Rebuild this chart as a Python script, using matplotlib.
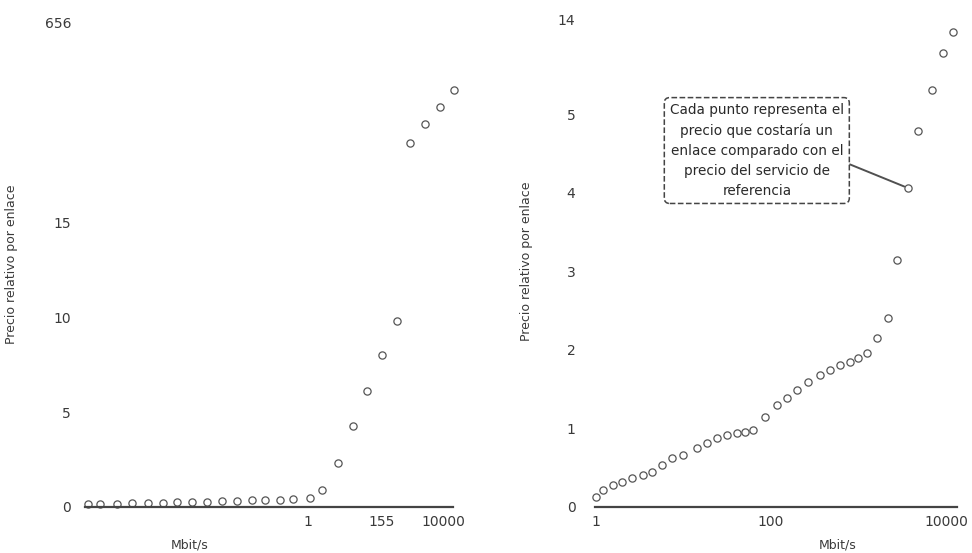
import matplotlib
matplotlib.use("Agg")
import matplotlib.pyplot as plt

plt.rcParams['font.family'] = ['DejaVu Sans']

# Left panel: relative price per link vs. bandwidth (Mbit/s)
left_mbps = [3.0e-7, 6.9e-7, 2.2e-6, 6.1e-6, 1.8e-5, 5.0e-5, 1.3e-4, 3.7e-4,
             1.0e-3, 2.8e-3, 7.9e-3, 0.022, 0.053, 0.15, 0.36, 1.15,
             2.6, 7.7, 21.6, 56, 155, 433, 1050, 2930, 8150, 21200]
left_price = [0.15, 0.16, 0.18, 0.19, 0.21, 0.23, 0.25, 0.27,
              0.29, 0.31, 0.33, 0.35, 0.37, 0.39, 0.41, 0.45,
              0.9, 2.3, 4.3, 6.1, 8.0, 9.8, 19.2, 20.2, 21.1, 22.0]
left_xticks = [1, 155, 10000]
left_xticklabels = ["1", "155", "10000"]
left_yticks = [0, 5, 10, 15, 25.57]
left_yticklabels = ["0", "5", "10", "15", "656"]

# Right panel: same measure over 1 - 10000 Mbit/s
right_mbps = [1.0, 1.2, 1.56, 2.0, 2.6, 3.4, 4.4, 5.7, 7.4, 9.9,
              14.3, 18.6, 24.1, 31.4, 40.9, 50.5, 62.3, 85.4, 117, 152,
              198, 265, 363, 472, 615, 800, 987, 1250, 1630, 2170,
              2750, 3680, 4790, 6920, 9240, 12000]
right_price = [0.13, 0.22, 0.28, 0.32, 0.37, 0.41, 0.45, 0.54, 0.62, 0.66,
               0.75, 0.82, 0.88, 0.92, 0.94, 0.96, 0.98, 1.15, 1.30, 1.39,
               1.49, 1.59, 1.68, 1.75, 1.81, 1.85, 1.90, 1.96, 2.15, 2.41,
               3.15, 4.06, 4.78, 5.31, 5.78, 6.04]
right_xticks = [1, 100, 10000]
right_xticklabels = ["1", "100", "10000"]
right_yticks = [0, 1, 2, 3, 4, 5, 6.2]
right_yticklabels = ["0", "1", "2", "3", "4", "5", "14"]

note_index = 31
note_text = ("Cada punto representa el\nprecio que costaría un\n"
             "enlace comparado con el\nprecio del servicio de\nreferencia")

ylabel = "Precio relativo por enlace"
xlabel = "Mbit/s"

W, H = 972, 553
fig = plt.figure(figsize=(W / 100, H / 100), dpi=100)

text_color = "#3a3a3a"
marker_kw = dict(linestyle="none", marker="o", markersize=5.2,
                 markerfacecolor="none", markeredgecolor="#555555",
                 markeredgewidth=0.9)


def style_axes(ax, ypad):
    for side in ("left", "right", "top"):
        ax.spines[side].set_visible(False)
    ax.spines["bottom"].set_color("#444444")
    ax.spines["bottom"].set_linewidth(1.6)
    ax.set_xscale("log")
    ax.minorticks_off()
    ax.tick_params(axis="both", length=0, labelsize=10, colors=text_color)
    ax.tick_params(axis="y", pad=ypad)
    ax.tick_params(axis="x", pad=6)


# ---- left panel ----
axL = fig.add_axes([85 / W, (H - 507) / H, 368 / W, 485 / H])
axL.plot(left_mbps, left_price, clip_on=False, **marker_kw)
style_axes(axL, 10)
axL.set_xlim(10 ** (-223 / 33.75), 10 ** (145 / 33.75))
axL.set_ylim(0, 25.6)
axL.set_xticks(left_xticks, left_xticklabels)
axL.set_yticks(left_yticks, left_yticklabels)
axL.set_ylabel(ylabel, fontsize=9, color=text_color)
axL.yaxis.set_label_coords(-0.182, 0.50)
axL.set_xlabel(xlabel, fontsize=9, color=text_color, va="center")
axL.xaxis.set_label_coords(0.285, -0.078)

# ---- right panel ----
axR = fig.add_axes([595 / W, (H - 507) / H, 362 / W, 491 / H])
axR.plot(right_mbps, right_price, clip_on=False, **marker_kw)
style_axes(axR, 14)
axR.set_xlim(10 ** (-1 / 87.5), 10 ** (361 / 87.5))
axR.set_ylim(0, 6.25)
axR.set_xticks(right_xticks, right_xticklabels)
axR.set_yticks(right_yticks, right_yticklabels)
axR.set_ylabel(ylabel, fontsize=9, color=text_color)
axR.yaxis.set_label_coords(-0.171, 0.50)
axR.set_xlabel(xlabel, fontsize=9, color=text_color, va="center")
axR.xaxis.set_label_coords(0.671, -0.077)

axR.annotate(
    note_text,
    xy=(right_mbps[note_index], right_price[note_index]),
    xytext=(0.447, 0.726), textcoords="axes fraction",
    ha="center", va="center", fontsize=9.8, color="#2a2a2a",
    linespacing=1.55,
    bbox=dict(boxstyle="round,pad=0.4,rounding_size=0.4", facecolor="white",
              edgecolor="#444444", linestyle="--", linewidth=1.1),
    arrowprops=dict(arrowstyle="-", color="#505050", linewidth=1.4,
                    relpos=(1.0, 0.38), shrinkA=0, shrinkB=3),
)

fig.savefig("out.png", dpi=100)
